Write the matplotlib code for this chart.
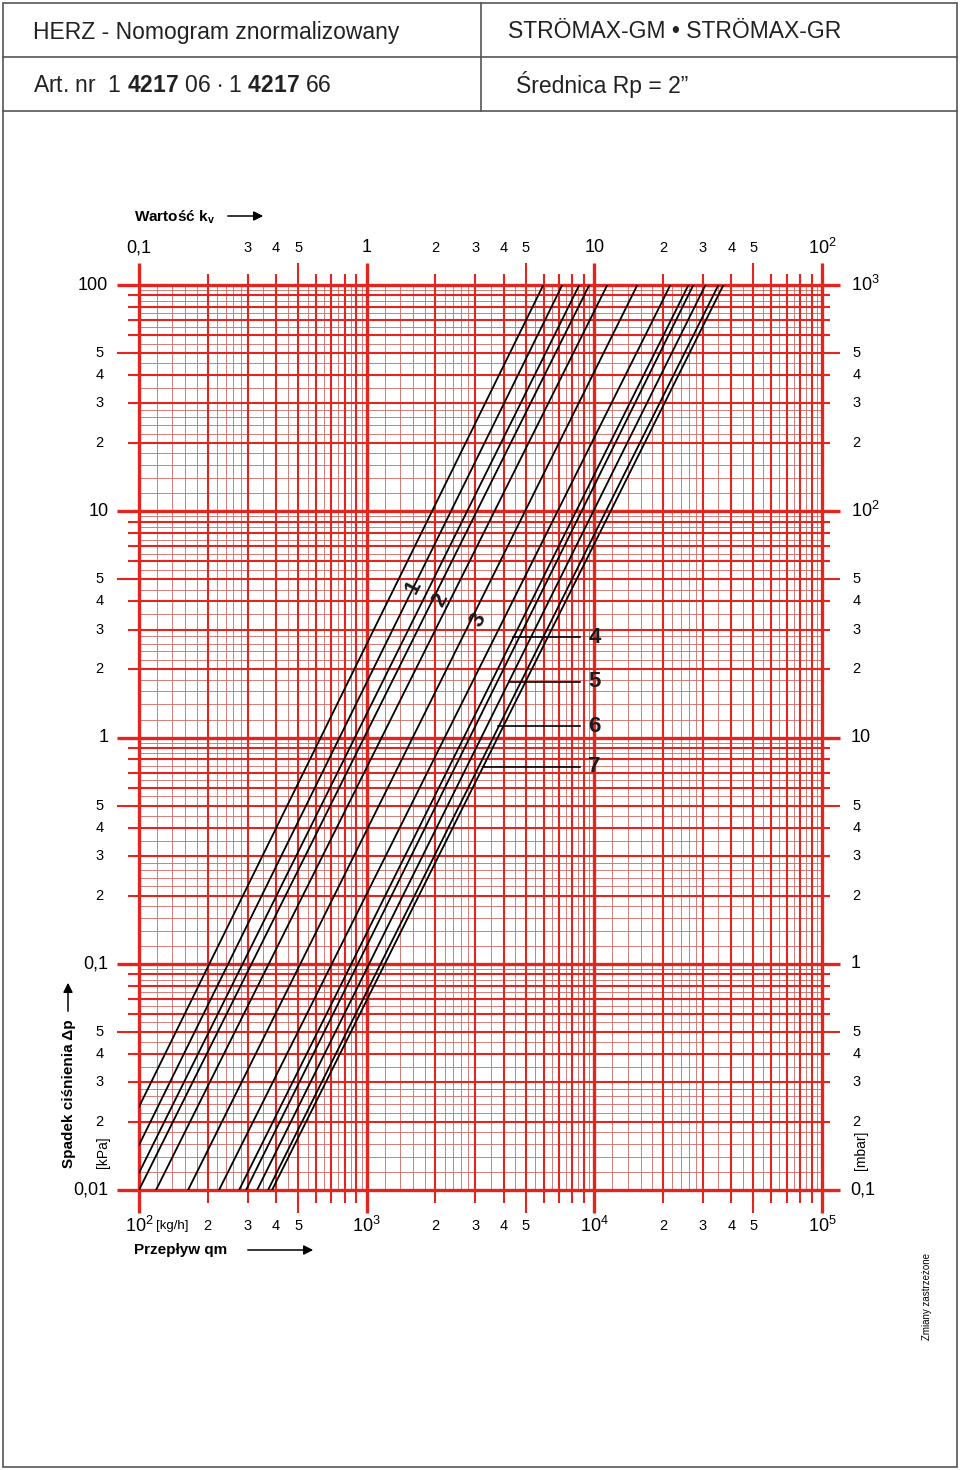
# HERZ nomogram - STROMAX-GM / GR, Rp 2"
import matplotlib.pyplot as plt
from matplotlib.patches import Rectangle, FancyArrowPatch
from matplotlib.lines import Line2D

plt.rcParams['font.family'] = ['Liberation Sans', 'DejaVu Sans']
plt.rcParams['mathtext.fontset'] = 'custom'
plt.rcParams['mathtext.rm'] = 'Liberation Sans'
plt.rcParams['mathtext.it'] = 'Liberation Sans:italic'
plt.rcParams['mathtext.bf'] = 'Liberation Sans:bold'

# lines: flow at dp=100 kPa and the lower end point
q_top = [5970, 7230, 8590, 9510, 11400, 15450, 21580, 25900, 27230, 30760, 35080, 36900]
q_low = [100, 100, 100, 100, 118.8, 164.3, 224.7, 275.2, 295.3, 330.2, 369, 384.2]
dp_low = [0.0233, 0.0158, 0.0119, 0.01, 0.01, 0.01, 0.01, 0.01, 0.01, 0.01, 0.01, 0.01]

# rotated labels 1-3 (q, dp)
rot_names = ['1', '2', '3']
rot_q = [1600, 2100, 3090]
rot_dp = [4.63, 4.05, 3.31]

# labels 4-7 with leader lines
lead_names = ['4', '5', '6', '7']
lead_q0 = [4405, 4276, 3785, 3250]
lead_q1 = 8670
lead_dp = [2.78, 1.76, 1.12, 0.741]

# axis labels
q_dec = [1e2, 1e3, 1e4, 1e5]
q_dec_lab = [r'$\mathregular{10^{2}}$', r'$\mathregular{10^{3}}$',
             r'$\mathregular{10^{4}}$', r'$\mathregular{10^{5}}$']
q_mid = [2, 3, 4, 5]
kv_dec = [0.1, 1, 10, 100]
kv_dec_lab = ['0,1', '1', '10', r'$\mathregular{10^{2}}$']
kv_mid = [0.3, 0.4, 0.5, 2, 3, 4, 5, 20, 30, 40, 50]
dp_dec = [100, 10, 1, 0.1, 0.01]
dp_dec_lab = ['100', '10', '1', '0,1', '0,01']
mbar_dec_lab = [r'$\mathregular{10^{3}}$', r'$\mathregular{10^{2}}$', '10', '1', '0,1']
dp_mid = [5, 4, 3, 2]

# grid steps inside a decade
mid_steps = [2, 3, 4, 5, 6, 7, 8, 9]
fine_steps = [1.2, 1.4, 1.6, 1.8, 2.2, 2.4, 2.6, 2.8, 3.5, 4.5, 5.5, 6.5, 7.5, 8.5, 9.5]

W, H = 960, 1470
RED = '#e1251f'
THIN = '#d06660'


def fx(x):
    return x / W


def fy(y):
    return 1 - y / H


fig = plt.figure(figsize=(W / 100, H / 100), dpi=100)
fig.patch.set_facecolor('white')

# frame and header
fig.add_artist(Rectangle((fx(3), fy(1467)), fx(954), 1464 / H, transform=fig.transFigure,
                         fill=False, ec='#555555', lw=1.2))
fig.add_artist(Line2D([fx(3), fx(957)], [fy(57), fy(57)], color='#555555', lw=1.2))
fig.add_artist(Line2D([fx(3), fx(957)], [fy(111), fy(111)], color='#555555', lw=1.2))
fig.add_artist(Line2D([fx(481), fx(481)], [fy(3), fy(111)], color='#555555', lw=1.2))

fig.text(fx(33), fy(32), 'HERZ - Nomogram znormalizowany', fontsize=16.5, va='center', color='#222222')
fig.text(fx(33), fy(85), r'Art. nr  1 $\mathbf{4217}$ 06 $\cdot$ 1 $\mathbf{4217}$ 66',
         fontsize=16.5, va='center', color='#222222')
fig.text(fx(508), fy(32), 'STRÖMAX-GM • STRÖMAX-GR', fontsize=16.5, va='center', color='#222222')
fig.text(fx(516), fy(85), 'Średnica Rp = 2”', fontsize=16.5, va='center', color='#222222')

ax = fig.add_axes([fx(139), fy(1190), (822 - 139) / W, (1190 - 285) / H])
ax.set_xscale('log')
ax.set_yscale('log')
ax.set_xlim(1e2, 1e5)
ax.set_ylim(0.01, 100)
ax.axis('off')

xt = ax.get_xaxis_transform()
yt = ax.get_yaxis_transform()

# thin grid
for d in q_dec[:-1]:
    ax.vlines([d * s for s in fine_steps], 0, 1, transform=xt, color=THIN, lw=0.6)
for d in dp_dec[1:]:
    ax.hlines([d * s for s in fine_steps], 0, 1, transform=yt, color=THIN, lw=0.6)

# medium grid with ticks outside
for d in q_dec[:-1]:
    for s in mid_steps:
        if s == 5:
            ax.vlines(d * s, -0.0254, 1.0243, transform=xt, color=RED, lw=1.5, clip_on=False)
        else:
            ax.vlines(d * s, -0.0144, 1.0122, transform=xt, color=RED, lw=1.5, clip_on=False)
for d in dp_dec[1:]:
    for s in mid_steps:
        if s == 5:
            ax.hlines(d * s, -0.032, 1.026, transform=yt, color=RED, lw=1.5, clip_on=False)
        else:
            ax.hlines(d * s, -0.016, 1.012, transform=yt, color=RED, lw=1.5, clip_on=False)

# decade lines
ax.vlines(q_dec, -0.0254, 1.0243, transform=xt, color=RED, lw=2.4, clip_on=False)
ax.hlines(dp_dec, -0.032, 1.026, transform=yt, color=RED, lw=2.4, clip_on=False)

# characteristic lines
for i in range(len(q_top)):
    ax.plot([q_low[i], q_top[i]], [dp_low[i], 100], color='black', lw=1.3, zorder=5)

for i in range(len(rot_names)):
    ax.text(rot_q[i], rot_dp[i], rot_names[i], fontsize=16, fontweight='bold', rotation=63,
            ha='center', va='center', zorder=6, color='#1a1a1a')

for i in range(len(lead_names)):
    ax.plot([lead_q0[i], lead_q1], [lead_dp[i], lead_dp[i]], color='black', lw=1.2, zorder=5)
    ax.text(1e4, lead_dp[i], lead_names[i], fontsize=16, fontweight='bold',
            ha='center', va='center', zorder=6, color='#1a1a1a')

# bottom flow labels
for v, lab in zip(q_dec, q_dec_lab):
    ax.text(v, -0.040, lab, transform=xt, fontsize=13, ha='center', va='center')
for d in q_dec[:-1]:
    for s in q_mid:
        ax.text(d * s, -0.040, str(s), transform=xt, fontsize=10.5, ha='center', va='center')
fig.text(fx(156), fy(1226), '[kg/h]', fontsize=9.5, va='center')

# top kv labels
for v, lab in zip(kv_dec, kv_dec_lab):
    ax.text(v * 1000, 1.041, lab, transform=xt, fontsize=13, ha='center', va='center')
for v in kv_mid:
    s = v / 10 ** int(f'{v:e}'.split('e')[1])
    ax.text(v * 1000, 1.041, f'{s:g}', transform=xt, fontsize=10.5, ha='center', va='center')

# left kPa labels, right mbar labels
for v, lab, lab2 in zip(dp_dec, dp_dec_lab, mbar_dec_lab):
    ax.text(-0.045, v, lab, transform=yt, fontsize=13, ha='right', va='center')
    ax.text(1.042, v, lab2, transform=yt, fontsize=13, ha='left', va='center')
for d in dp_dec[1:]:
    for s in dp_mid:
        ax.text(-0.052, d * s, str(s), transform=yt, fontsize=10.5, ha='right', va='center')
        ax.text(1.045, d * s, str(s), transform=yt, fontsize=10.5, ha='left', va='center')

# axis titles
fig.text(fx(134), fy(217), r'Wartość $\mathbf{k_v}$', fontsize=11, fontweight='bold', va='center')
fig.add_artist(FancyArrowPatch((fx(225), fy(216)), (fx(266), fy(216)), transform=fig.transFigure,
                               arrowstyle='-|>', mutation_scale=14, color='black', lw=1.1))
fig.text(fx(134), fy(1250), 'Przepływ qm', fontsize=11, fontweight='bold', va='center')
fig.add_artist(FancyArrowPatch((fx(245), fy(1250)), (fx(316), fy(1250)), transform=fig.transFigure,
                               arrowstyle='-|>', mutation_scale=14, color='black', lw=1.1))
fig.text(fx(69), fy(1094), 'Spadek ciśnienia Δp', fontsize=11, fontweight='bold',
         rotation=90, ha='center', va='center')
fig.add_artist(FancyArrowPatch((fx(68), fy(1014)), (fx(68), fy(980)), transform=fig.transFigure,
                               arrowstyle='-|>', mutation_scale=14, color='black', lw=1.1))
fig.text(fx(103), fy(1152), '[kPa]', fontsize=10, rotation=90, ha='center', va='center')
fig.text(fx(861), fy(1150), '[mbar]', fontsize=10, rotation=90, ha='center', va='center')
fig.text(fx(927), fy(1297), 'Zmiany zastrzeżone', fontsize=7, rotation=90, ha='center', va='center')

fig.savefig('out.png', dpi=100)
